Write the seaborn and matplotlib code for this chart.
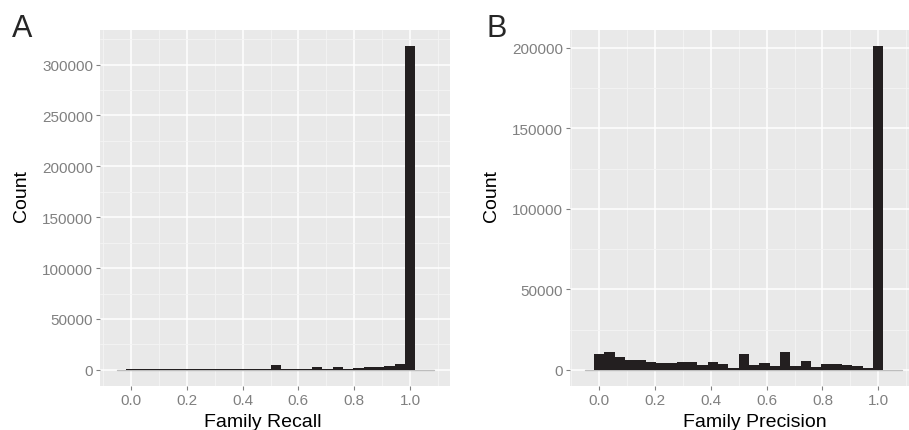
import matplotlib
matplotlib.use("Agg")
import matplotlib.pyplot as plt
import numpy as np
import pandas as pd
import seaborn as sns
from matplotlib.ticker import FixedLocator, MultipleLocator

# histogram counts, 28 bins of width 1/27 centred on k/27
bin_width = 1 / 27
recall_counts = [
    800, 800, 800, 800, 800, 800, 800, 800, 800, 800, 800, 800, 800, 800,
    4600, 700, 700, 700, 2600, 650, 2600, 650, 1600, 2600, 2600, 3600, 5600,
    318000,
]
precision_counts = [
    9840, 11100, 7960, 6270, 6270, 4830, 4200, 4200, 5000, 5000, 2950, 4830,
    3570, 880, 9840, 3130, 4200, 2500, 11300, 2500, 5640, 1500, 3570, 3570,
    2950, 2300, 1050, 201000,
]

x_ticks = [0.0, 0.2, 0.4, 0.6, 0.8, 1.0]
x_tick_labels = ["0.0", "0.2", "0.4", "0.6", "0.8", "1.0"]
recall_yticks = [0, 50000, 100000, 150000, 200000, 250000, 300000]
precision_yticks = [0, 50000, 100000, 150000, 200000]

bar_color = "#231F20"
panel_bg = "#E9E9E9"
grey_text = "#808080"

sns.set_style("darkgrid")
plt.rcParams["font.family"] = ["Liberation Sans", "DejaVu Sans"]


def draw_panel(ax, counts, yticks, xlim, xlabel, xlabel_x, ylabel_x, letter, letter_x):
    df = pd.DataFrame({"value": np.arange(len(counts)) * bin_width, "n": counts})
    lo = -bin_width / 2
    hi = df["value"].iloc[-1] + bin_width / 2
    ax.set_facecolor(panel_bg)
    sns.histplot(data=df, x="value", weights="n", binwidth=bin_width,
                 binrange=(lo, hi), color=bar_color, alpha=1, linewidth=0,
                 ax=ax, zorder=3)
    ax.plot([-0.05, 1.085], [0, 0], color="#BDBDBD", lw=1, zorder=2)

    ax.set_xlim(*xlim)
    ax.set_ylim(-max(counts) * 0.05, max(counts) * 1.05)

    ax.xaxis.set_major_locator(FixedLocator(x_ticks))
    ax.set_xticklabels(x_tick_labels)
    ax.xaxis.set_minor_locator(FixedLocator([-0.1, 0.1, 0.3, 0.5, 0.7, 0.9, 1.1]))
    ax.yaxis.set_major_locator(FixedLocator(yticks))
    ax.set_yticklabels([str(t) for t in yticks])
    ax.yaxis.set_minor_locator(MultipleLocator(25000))

    ax.grid(which="major", color="white", lw=1.1)
    ax.grid(which="minor", color="#F4F4F4", lw=0.6)
    ax.set_axisbelow(True)
    for s in ax.spines.values():
        s.set_visible(False)

    ax.tick_params(which="major", length=3, width=0.8, color=grey_text,
                   labelcolor=grey_text, labelsize=11, pad=2)
    ax.tick_params(which="minor", length=0)
    ax.tick_params(axis="x", bottom=True)
    ax.tick_params(axis="y", left=True)

    ax.set_xlabel(xlabel, fontsize=14, color="black")
    ax.set_ylabel("Count", fontsize=14, color="black")
    ax.xaxis.set_label_coords(xlabel_x, -0.075)
    ax.yaxis.set_label_coords(ylabel_x, 0.537)
    ax.figure.text(letter_x, 0.968, letter, fontsize=22, ha="left", va="top")


fig = plt.figure(figsize=(9.09, 4.31), dpi=100)
ax_a = fig.add_axes([0.110, 0.102, 0.385, 0.826])
ax_b = fig.add_axes([0.627, 0.102, 0.373, 0.826])

draw_panel(ax_a, recall_counts, recall_yticks, (-0.111, 1.143),
           "Family Recall", 0.466, -0.2, "A", 0.013)
draw_panel(ax_b, precision_counts, precision_yticks, (-0.105, 1.11),
           "Family Precision", 0.545, -0.206, "B", 0.535)

fig.savefig("out.png", dpi=100)
